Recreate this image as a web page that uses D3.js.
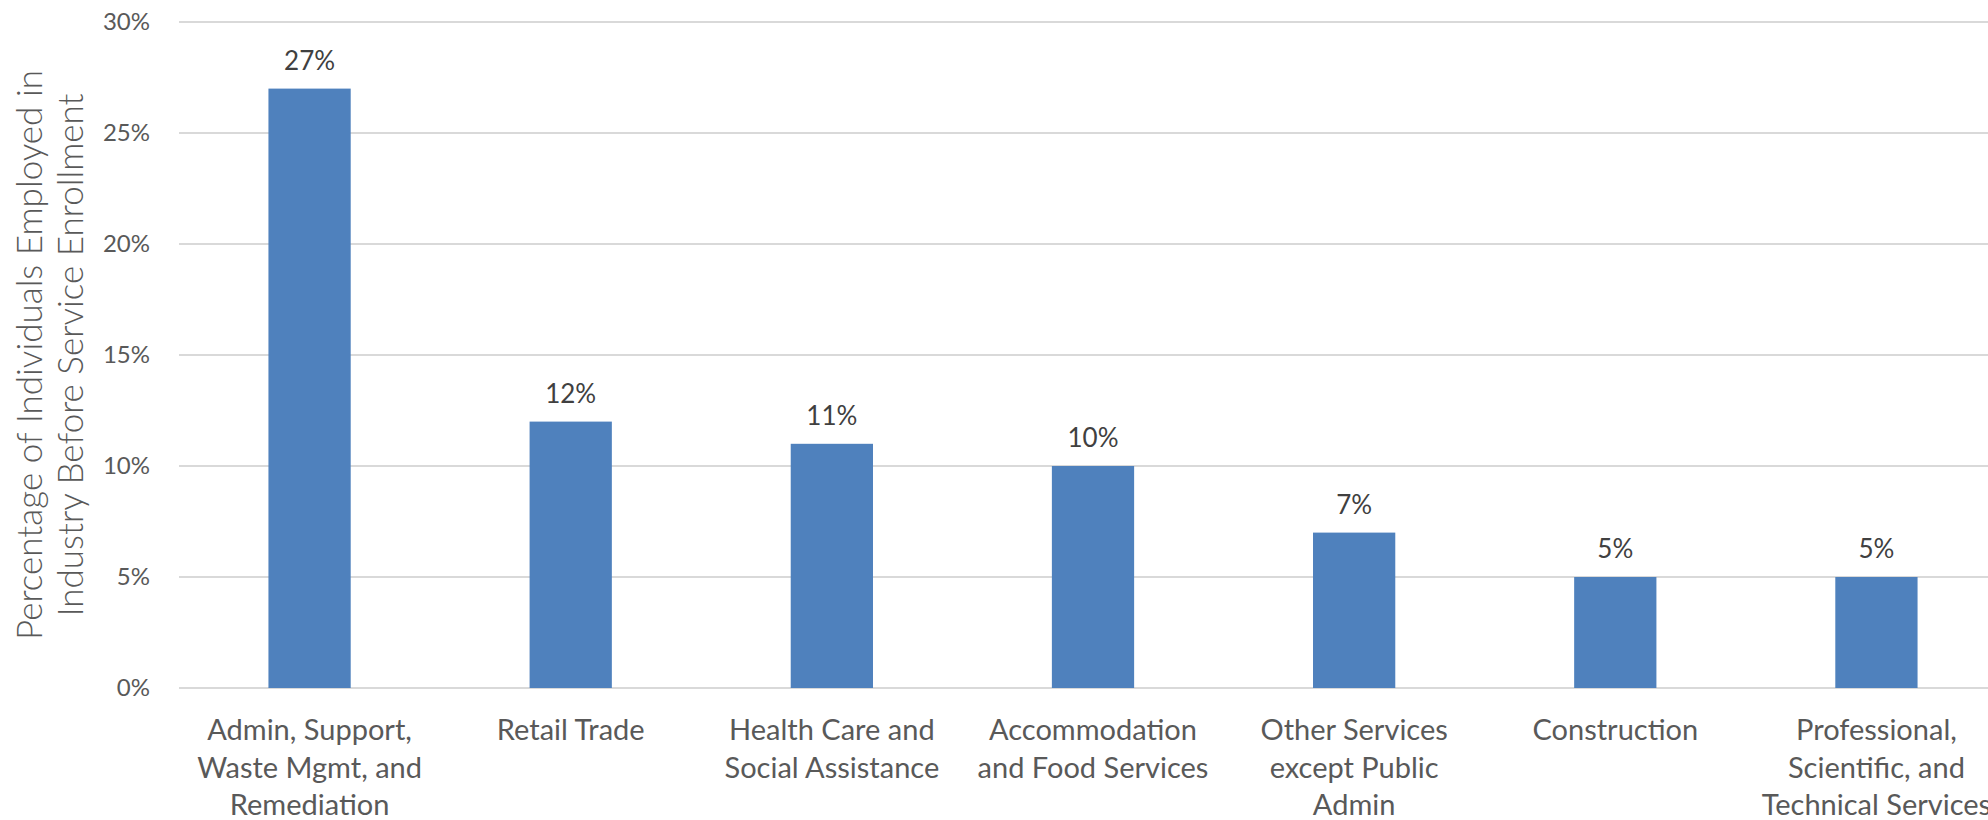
<!DOCTYPE html>
<html>
<head>
<meta charset="utf-8">
<script src="https://cdn.jsdelivr.net/npm/d3@7"></script>
<style>
  body { margin: 0; background: #fff; }
  text { font-family: Lato, "Open Sans", sans-serif; }
</style>
</head>
<body>
<svg id="chart" width="1988" height="820"></svg>
<script>
var categories = [
  ["Admin, Support,", "Waste Mgmt, and", "Remediation"],
  ["Retail Trade"],
  ["Health Care and", "Social Assistance"],
  ["Accommodation", "and Food Services"],
  ["Other Services", "except Public", "Admin"],
  ["Construction"],
  ["Professional,", "Scientific, and", "Technical Services"]
];
var values = [27, 12, 11, 10, 7, 5, 5];
var yTicks = [0, 5, 10, 15, 20, 25, 30];
var titleLines = ["Percentage of Individuals Employed in", "Industry Before Service Enrollment"];

var svg = d3.select("#chart"),
  plotLeft = 179,
  plotRight = 2007,
  plotTop = 22,
  plotBottom = 688;

var x = d3.scaleBand()
  .domain(d3.range(values.length))
  .range([plotLeft, plotRight])
  .paddingInner(0.685)
  .paddingOuter(0.3425);

var y = d3.scaleLinear().domain([0, 30]).range([plotBottom, plotTop]);

// gridlines
svg.append("g")
  .selectAll("line")
  .data(yTicks)
  .enter()
  .append("line")
  .attr("x1", plotLeft)
  .attr("x2", 1988)
  .attr("y1", function (d) { return y(d); })
  .attr("y2", function (d) { return y(d); })
  .attr("stroke", "#d9d9d9")
  .attr("stroke-width", 2);

// y tick labels
svg.append("g")
  .selectAll("text")
  .data(yTicks)
  .enter()
  .append("text")
  .attr("x", 150)
  .attr("y", function (d) { return y(d); })
  .attr("dy", "0.35em")
  .attr("text-anchor", "end")
  .attr("font-size", 24)
  .attr("fill", "#595959")
  .text(function (d) { return d + "%"; });

// bars
svg.append("g")
  .selectAll("rect")
  .data(values)
  .enter()
  .append("rect")
  .attr("x", function (d, i) { return x(i); })
  .attr("y", function (d) { return y(d); })
  .attr("width", x.bandwidth())
  .attr("height", function (d) { return plotBottom - y(d); })
  .attr("fill", "#4f81bd");

// data labels
svg.append("g")
  .selectAll("text")
  .data(values)
  .enter()
  .append("text")
  .attr("x", function (d, i) { return x(i) + x.bandwidth() / 2; })
  .attr("y", function (d) { return y(d) - 19; })
  .attr("text-anchor", "middle")
  .attr("font-size", 26)
  .attr("fill", "#404040")
  .text(function (d) { return d + "%"; });

// category labels
var cat = svg.append("g")
  .selectAll("text")
  .data(categories)
  .enter()
  .append("text")
  .attr("text-anchor", "middle")
  .attr("font-size", 29)
  .attr("fill", "#595959")
  .attr("transform", function (d, i) {
    return "translate(" + (x(i) + x.bandwidth() / 2) + ",740)";
  });

cat.selectAll("tspan")
  .data(function (d) { return d; })
  .enter()
  .append("tspan")
  .attr("x", 0)
  .attr("y", function (d, i) { return i * 37.5; })
  .text(function (d) { return d; });

// axis title
var title = svg.append("text")
  .attr("transform", "translate(0," + (plotTop + plotBottom) / 2 + ") rotate(-90)")
  .attr("text-anchor", "middle")
  .attr("font-size", 35)
  .attr("font-weight", 300)
  .attr("fill", "#595959");

title.selectAll("tspan")
  .data(titleLines)
  .enter()
  .append("tspan")
  .attr("x", 0)
  .attr("y", function (d, i) { return 42 + i * 41; })
  .text(function (d) { return d; });
</script>
</body>
</html>
